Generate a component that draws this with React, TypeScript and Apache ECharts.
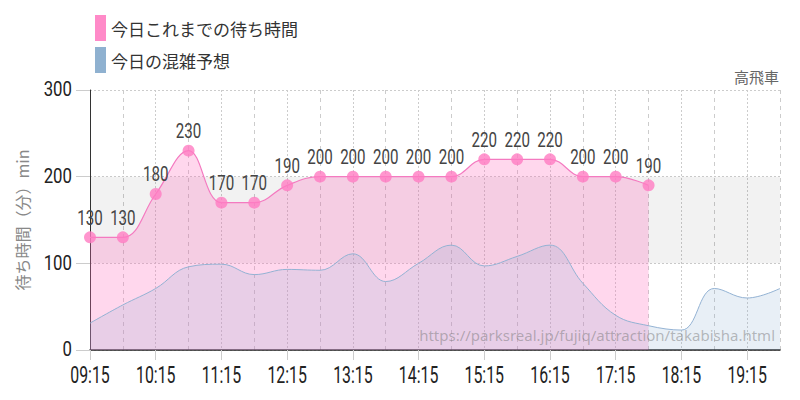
import React, { useEffect, useRef } from "react";
import * as echarts from "echarts";

const categories = [
  "09:15", "09:45", "10:15", "10:45", "11:15", "11:45", "12:15", "12:45",
  "13:15", "13:45", "14:15", "14:45", "15:15", "15:45", "16:15", "16:45",
  "17:15", "17:45", "18:15", "18:45", "19:15", "19:45",
];
const waitToday = [130, 130, 180, 230, 170, 170, 190, 200, 200, 200, 200, 200, 220, 220, 220, 200, 200, 190];
const forecast = [31, 52, 71, 96, 99, 87, 93, 92, 111, 79, 100, 121, 97, 108, 121, 77, 40, 28, 23, 71, 60, 71];
const yTicks = [0, 100, 200, 300];
const seriesNames = ["今日これまでの待ち時間", "今日の混雑予想"];
const titleText = "高飛車";
const yAxisName = "待ち時間（分）min";
const watermark = "https://parksreal.jp/fujiq/attraction/takabisha.html";

const NUM_FONT = "Roboto, 'DejaVu Sans', sans-serif";
const JP_FONT = "'Noto Sans CJK JP', 'Noto Sans', sans-serif";

// condensed text drawn at the library's coordinates
function condensedText(
  text: string,
  x: number,
  y: number,
  size: number,
  scaleX: number,
  align: string,
  fill: string
) {
  return {
    type: "text",
    x,
    y,
    scaleX,
    scaleY: 1,
    silent: true,
    style: {
      text,
      fontSize: size,
      fontFamily: NUM_FONT,
      fontWeight: "normal",
      fill,
      align,
      verticalAlign: "middle",
    },
  };
}

export default function App() {
  const ref = useRef<HTMLDivElement>(null);
  useEffect(() => {
    if (!ref.current) return;
    const chart = echarts.init(ref.current, undefined, { renderer: "svg" });

    const xLabelData = categories
      .map((c, i) => [i, 0, c])
      .filter((d) => (d[0] as number) % 2 === 0);
    const yLabelData = yTicks.map((v) => [0, v, String(v)]);
    const valueLabelData = waitToday.map((v, i) => [i, v, String(v)]);

    chart.setOption({
      animation: false,
      backgroundColor: "#ffffff",
      title: {
        text: titleText,
        right: 16,
        top: 64,
        textStyle: { fontSize: 15, color: "#666", fontWeight: "normal", fontFamily: JP_FONT },
      },
      legend: {
        left: 90,
        top: 10,
        orient: "vertical",
        itemWidth: 11,
        itemHeight: 26,
        itemGap: 6,
        icon: "rect",
        textStyle: { fontSize: 17, color: "#333", fontFamily: JP_FONT },
        data: [
          { name: seriesNames[0], itemStyle: { color: "#ff8ac8", opacity: 1 } },
          { name: seriesNames[1], itemStyle: { color: "#8fb1d0", opacity: 1 } },
        ],
      },
      grid: { left: 90, right: 20, top: 90, bottom: 50, containLabel: false },
      xAxis: [
        {
          type: "category",
          data: categories,
          boundaryGap: false,
          axisLine: { show: true, lineStyle: { color: "#222", width: 1.5 } },
          axisTick: { show: true, interval: 1, length: 10, lineStyle: { color: "#ccc" } },
          axisLabel: { show: false },
          splitLine: {
            show: true,
            interval: (i: number) => i % 2 === 1,
            lineStyle: { type: [4, 4], color: "#ccc", width: 1 },
          },
        },
        {
          type: "category",
          data: categories,
          boundaryGap: false,
          position: "bottom",
          axisLine: { show: false },
          axisTick: { show: false },
          axisLabel: { show: false },
          splitLine: {
            show: true,
            interval: (i: number) => i % 2 === 0 && i > 0,
            lineStyle: { type: [2, 2], color: "#ccc", width: 1 },
          },
        },
      ],
      yAxis: {
        type: "value",
        min: yTicks[0],
        max: yTicks[yTicks.length - 1],
        interval: 100,
        name: yAxisName,
        nameLocation: "middle",
        nameGap: 60,
        nameTextStyle: { fontSize: 16, color: "#888", fontFamily: JP_FONT },
        axisLine: { show: true, lineStyle: { color: "#333", width: 1 } },
        axisTick: { show: true, length: 14, lineStyle: { color: "#ccc" } },
        axisLabel: { show: false },
        splitLine: { show: true, lineStyle: { type: [2, 2], color: "#ccc" } },
      },
      graphic: [
        {
          type: "text",
          right: 25,
          top: 327,
          z: 100,
          silent: true,
          style: {
            text: watermark,
            fontSize: 15,
            fontFamily: "'Noto Sans', sans-serif",
            fill: "rgba(110,110,110,0.45)",
          },
        },
      ],
      series: [
        {
          name: seriesNames[0],
          type: "line",
          data: waitToday,
          smooth: 0.4,
          symbol: "circle",
          symbolSize: 12,
          itemStyle: { color: "#ff7cc2", opacity: 0.8 },
          lineStyle: { color: "#f47ac0", width: 1.2 },
          areaStyle: { color: "rgba(255,110,190,0.4)" },
          z: 2,
          markArea: {
            silent: true,
            itemStyle: { color: "rgba(0,0,0,0.05)" },
            data: [[{ yAxis: 100, x: 90 }, { yAxis: 200, x: 780 }]],
          },
        },
        {
          name: seriesNames[1],
          type: "line",
          data: forecast,
          smooth: 0.4,
          symbol: "none",
          lineStyle: { color: "#93b2d3", width: 1 },
          areaStyle: { color: "rgba(127,163,203,0.25)" },
          z: 3,
        },
        {
          name: "valueLabels",
          type: "custom",
          data: valueLabelData,
          clip: false,
          silent: true,
          z: 10,
          renderItem: (params: any, api: any) => {
            const d = valueLabelData[params.dataIndex];
            const p = api.coord([d[0], d[1]]);
            return condensedText(d[2] as string, p[0], p[1] - 20, 21, 0.72, "center", "#444");
          },
        },
        {
          name: "xLabels",
          type: "custom",
          data: xLabelData,
          clip: false,
          silent: true,
          z: 10,
          renderItem: (params: any, api: any) => {
            const d = xLabelData[params.dataIndex];
            const p = api.coord([d[0], d[1]]);
            return condensedText(d[2] as string, p[0], p[1] + 25, 24, 0.66, "center", "#222");
          },
        },
        {
          name: "yLabels",
          type: "custom",
          data: yLabelData,
          clip: false,
          silent: true,
          z: 10,
          renderItem: (params: any, api: any) => {
            const d = yLabelData[params.dataIndex];
            const p = api.coord([d[0], d[1]]);
            return condensedText(d[2] as string, p[0] - 18, p[1], 20, 0.84, "right", "#222");
          },
        },
      ],
    });
    return () => chart.dispose();
  }, []);
  return (
    <div
      ref={ref}
      style={{ position: "absolute", left: 0, top: 0, width: 800, height: 400 }}
    />
  );
}
